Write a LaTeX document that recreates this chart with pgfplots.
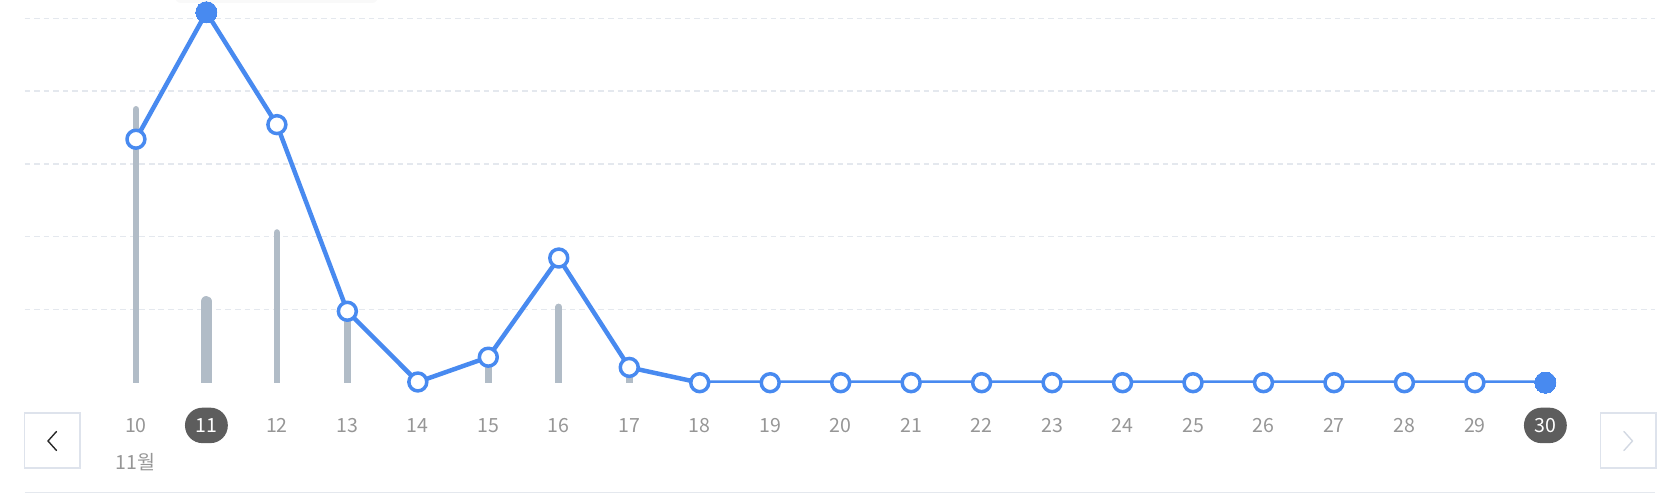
\documentclass[border=0pt]{standalone}
\usepackage{fontspec}
\setmainfont{Noto Sans CJK KR}
\usepackage{pgfplots}
\pgfplotsset{compat=1.18}
\definecolor{lineblue}{RGB}{72,138,240}
\definecolor{bargray}{RGB}{177,188,199}
\definecolor{gridgray}{RGB}{228,232,238}
\definecolor{labelgray}{RGB}{150,150,150}
\definecolor{pillgray}{RGB}{93,93,93}
\definecolor{navborder}{RGB}{222,227,236}
\definecolor{darkchev}{RGB}{40,40,40}
\definecolor{lightchev}{RGB}{210,216,226}
\newcommand\hl[1]{\tikz[baseline=(h.base)]\node[fill=pillgray,text=white,rounded corners=8.8pt,minimum height=17.8pt,minimum width=21.5pt,inner sep=0pt](h){#1};}
\begin{document}
\begin{tikzpicture}
\begin{scope}[x=0.5bp,y=-0.5bp]
\fill[black,opacity=0.025,rounded corners=3pt] (175,-6) rectangle (378,3);
\draw[navborder,line width=0.8pt] (24.6,413.3) rectangle (80.2,468.3);
\draw[darkchev,line width=0.7pt,line cap=round] (56.5,431.5) -- (48,441) -- (56.5,450.5);
\draw[navborder,line width=0.8pt] (1600.5,413.3) rectangle (1656,468.3);
\draw[lightchev,line width=0.7pt,line cap=round] (1624,431.5) -- (1632.5,441) -- (1624,450.5);
\draw[gridgray,line width=0.6pt] (24.6,492.8) -- (1655,492.8);
\node[font=\fontsize{9.8}{11}\selectfont,text=labelgray,inner sep=0pt] at (135.7,461.8) {11월};
\end{scope}
\begin{axis}[
  at={(12.3bp,-191.35bp)}, anchor=south west,
  scale only axis, width=815bp, height=193.2bp,
  xmin=8.42, xmax=31.55, ymin=0, ymax=5.3,
  axis line style={draw=none},
  tick style={draw=none},
  major tick length=0pt,
  ytick={1,2,3,4,5}, yticklabels={},
  ymajorgrids,
  grid style={gridgray,line width=0.6pt,dash pattern=on 2.8pt off 2pt},
  xtick={10,...,30},
  xticklabels={10,\hl{11},12,13,14,15,16,17,18,19,20,21,22,23,24,25,26,27,28,29,\hl{30}},
  xticklabel style={font=\fontsize{9.8}{11}\selectfont,text=labelgray,anchor=center,yshift=-21.35bp},
]
\addplot[ycomb,draw=bargray,line width=3.3pt,line cap=round,mark=none]
  coordinates {(10,3.75) (12,2.06) (13,0.9) (15,0.3) (16,1.04) (17,0.12)};
\addplot[ycomb,draw=bargray,line width=5.8pt,line cap=round,mark=none]
  coordinates {(11,1.11)};
\addplot[color=lineblue,line width=2.25pt,line join=round,mark=*,mark size=4.5pt,
  mark options={fill=white,draw=lineblue,line width=1.75pt}]
  coordinates {(10,3.34) (11,5.08) (12,3.54) (13,0.98) (14,0.01) (15,0.35) (16,1.71) (17,0.21)
    (18,0) (19,0) (20,0) (21,0) (22,0) (23,0) (24,0) (25,0) (26,0) (27,0) (28,0) (29,0) (30,0)};
\addplot[color=lineblue,only marks,mark=*,mark size=5.3pt,mark options={fill=lineblue,draw=lineblue,line width=0pt}]
  coordinates {(11,5.08) (30,0)};
\end{axis}
\pgfresetboundingbox
\path[use as bounding box] (0bp,0bp) rectangle (838bp,-247bp);
\end{tikzpicture}
\end{document}
